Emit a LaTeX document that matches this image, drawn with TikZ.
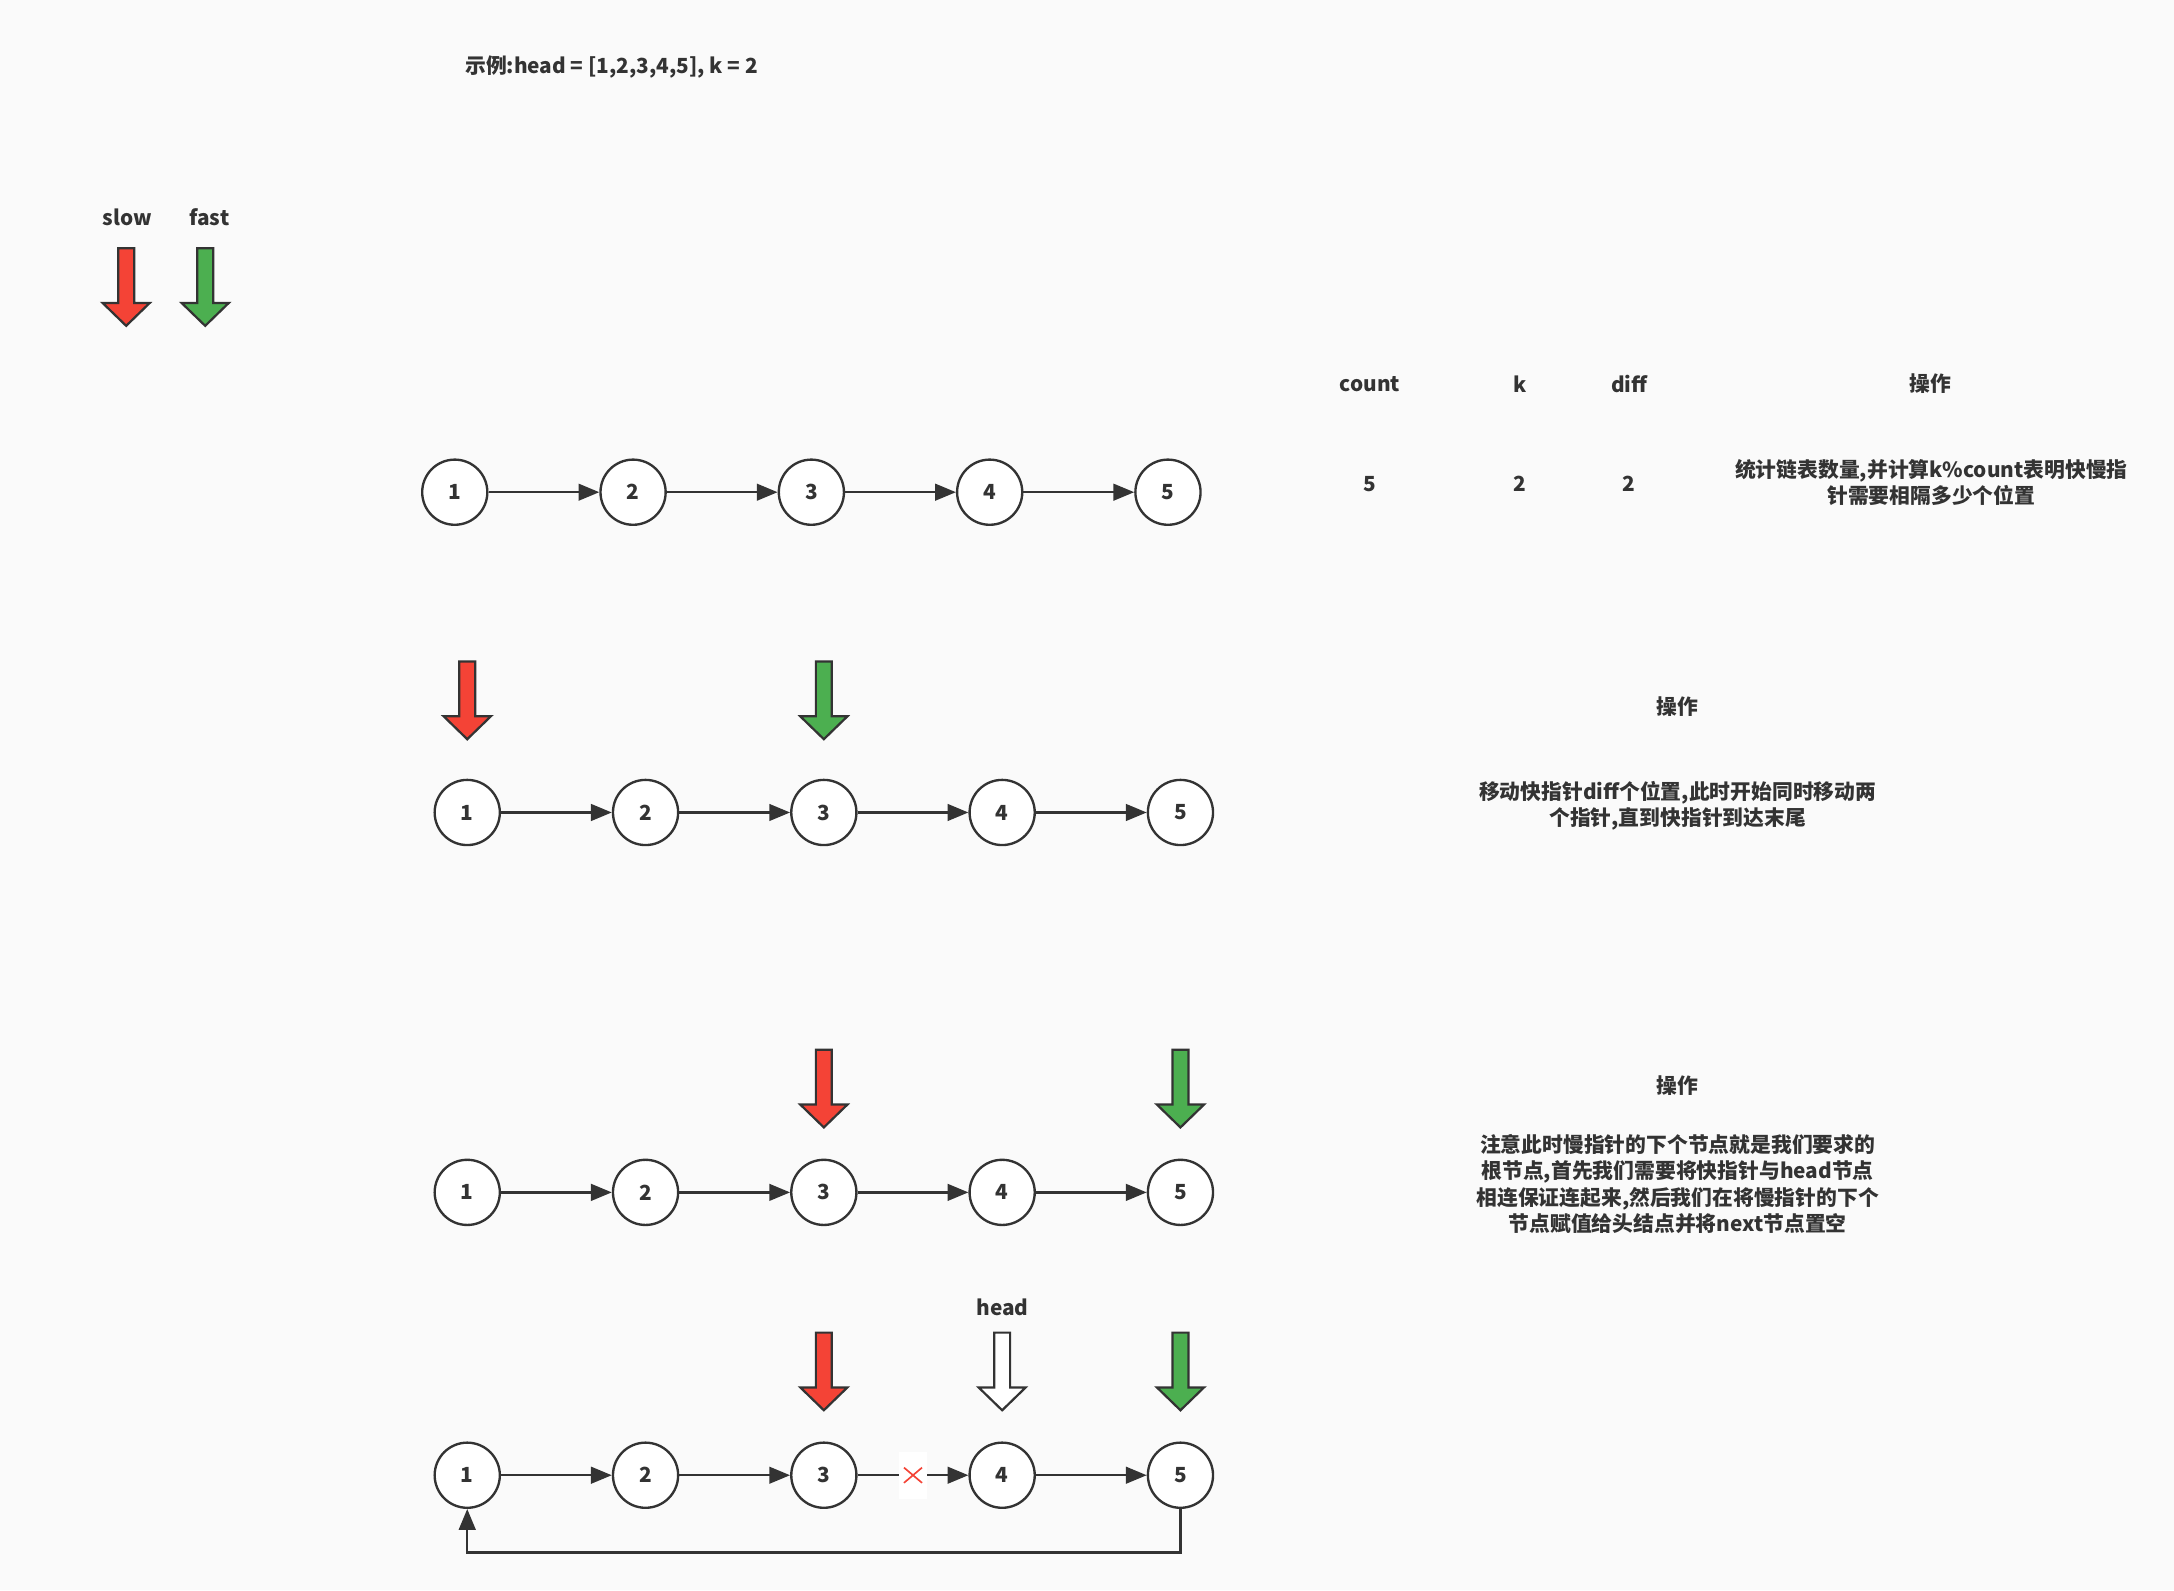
\documentclass[tikz,border=0pt]{standalone}
\usepackage{fontspec}
\setmainfont{Noto Sans CJK SC}
\usepackage{tikz}
\usetikzlibrary{positioning, arrows.meta}
\definecolor{bg}{HTML}{FAFAFA}
\definecolor{ink}{HTML}{333333}
\definecolor{slowc}{HTML}{F44336}
\definecolor{fastc}{HTML}{4CAF50}
\tikzset{ptr/.pic = {\draw[draw=ink, line width=1.6pt, fill=#1]
    (-5.75,0) -- (5.75,0) -- (5.75,39.5) -- (17,39.5) -- (0,56)
    -- (-17,39.5) -- (-5.75,39.5) -- cycle;}}

\begin{document}
\begin{tikzpicture}[x=1pt, y=-1pt,
                    every node/.style = {text=ink, font=\fontsize{15}{19}\selectfont\bfseries},
                    item/.style = {circle, draw=ink, line width=1.7pt, fill=white, minimum size=47pt, inner sep=0pt},
                    every edge/.style = {draw=ink, line width=1.7pt, -{Triangle[length=15pt, width=12pt]}},
                    cut/.style = {fill=white, inner sep=0pt, minimum width=19.5pt, minimum height=34pt},
                    node distance = 128.6pt, on grid]
                \fill[bg] (0,0) rectangle (1568,1147);
                \useasboundingbox (0,0) rectangle (1568,1147);
                % title and legend
                \node (title) at (441,48) {示例:head = [1,2,3,4,5], k = 2};
                \node (slow) at (92,157) {slow};
                \node (fast) at (151,157) {fast};
                \pic at (91,179) {ptr=slowc};
                \pic at (148,179) {ptr=fastc};
                % table
                \node (count) at (988,277) {count};
                \node (kk) at (1096,277) {k};
                \node (diff) at (1175,277) {diff};
                \node (op1) at (1392,277) {操作};
                \node (countv) at (988,349) {5};
                \node (kv) at (1096,349) {2};
                \node (diffv) at (1175,349) {2};
                \node (op1v) [align=center] at (1393,348) {统计链表数量,并计算k\%count表明快慢指\\针需要相隔多少个位置};
                \node (op2) at (1210,510) {操作};
                \node (op2v) [align=center] at (1210,581) {移动快指针diff个位置,此时开始同时移动两\\个指针,直到快指针到达末尾};
                \node (op3) at (1210,783) {操作};
                \node (op3v) [align=center] at (1210,854) {注意此时慢指针的下个节点就是我们要求的\\根节点,首先我们需要将快指针与head节点\\相连保证连起来,然后我们在将慢指针的下个\\节点赋值给头结点并将next节点置空};
                % row 1
                \node (a1) [item] at (328,355) {1};
                \node (a2) [item, right = of a1] {2};
                \node (a3) [item, right = of a2] {3};
                \node (a4) [item, right = of a3] {4};
                \node (a5) [item, right = of a4] {5};
                \draw (a1) edge (a2);
                \draw (a2) edge (a3);
                \draw (a3) edge (a4);
                \draw (a4) edge (a5);
                % row 2
                \node (b1) [item] at (337,586) {1};
                \node (b2) [item, right = of b1] {2};
                \node (b3) [item, right = of b2] {3};
                \node (b4) [item, right = of b3] {4};
                \node (b5) [item, right = of b4] {5};
                \draw (b1) edge (b2);
                \draw (b2) edge (b3);
                \draw (b3) edge (b4);
                \draw (b4) edge (b5);
                \pic at ([yshift=84.5pt]b1.north) {ptr=slowc};
                \pic at ([yshift=84.5pt]b3.north) {ptr=fastc};
                % row 3
                \node (c1) [item] at (337,860) {1};
                \node (c2) [item, right = of c1] {2};
                \node (c3) [item, right = of c2] {3};
                \node (c4) [item, right = of c3] {4};
                \node (c5) [item, right = of c4] {5};
                \draw (c1) edge (c2);
                \draw (c2) edge (c3);
                \draw (c3) edge (c4);
                \draw (c4) edge (c5);
                \pic at ([yshift=78.5pt]c3.north) {ptr=slowc};
                \pic at ([yshift=78.5pt]c5.north) {ptr=fastc};
                % row 4
                \node (d1) [item] at (337,1064) {1};
                \node (d2) [item, right = of d1] {2};
                \node (d3) [item, right = of d2] {3};
                \node (d4) [item, right = of d3] {4};
                \node (d5) [item, right = of d4] {5};
                \draw (d1) edge (d2);
                \draw (d2) edge (d3);
                \draw (d3) edge node (x) [cut] {} (d4);
                \draw (d4) edge (d5);
                \draw[slowc, line width=1.2pt] ([shift={(-6.5,-5.5)}]x.center) -- ([shift={(6.5,5.5)}]x.center)
                    ([shift={(-6.5,5.5)}]x.center) -- ([shift={(6.5,-5.5)}]x.center);
                \draw[draw=ink, line width=1.7pt, -{Triangle[length=15pt, width=12pt]}] (d5.south) -- ++(0,31.5) -| (d1.south);
                \node (head) at (723,943) {head};
                \pic at ([yshift=78.5pt]d3.north) {ptr=slowc};
                \pic at ([yshift=78.5pt]d4.north) {ptr=white};
                \pic at ([yshift=78.5pt]d5.north) {ptr=fastc};
            \end{tikzpicture}
\end{document}
